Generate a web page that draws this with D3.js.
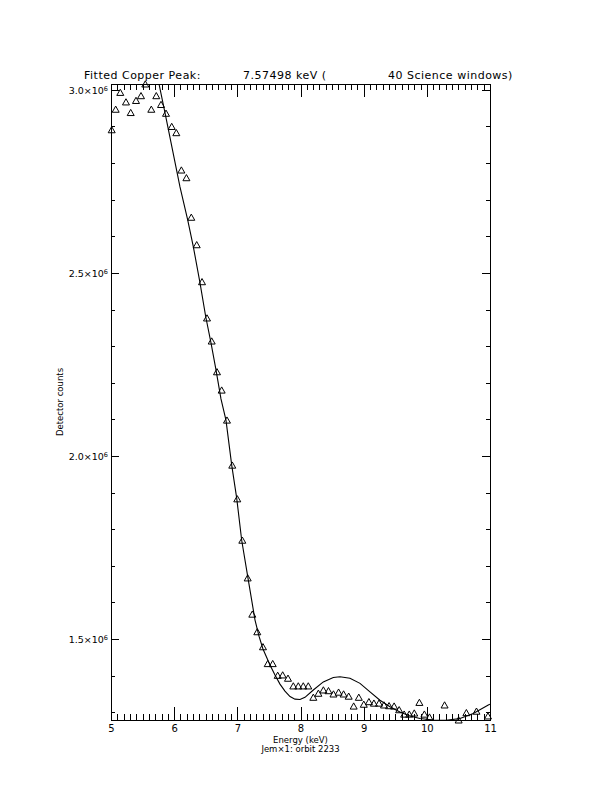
<!DOCTYPE html>
<html><head><meta charset="utf-8">
<script src="https://cdn.jsdelivr.net/npm/d3@7"></script>
<style>
body{margin:0;background:#fff;}
svg{display:block;background:#fff;}
text{font-family:"DejaVu Sans",sans-serif;fill:#000;}
</style></head><body>
<svg id="c" width="612" height="792"></svg>
<script>
// Measured spectrum points (energy in keV, counts in units of 10^6)
const energy=[5.011,5.074,5.147,5.237,5.312,5.396,5.475,5.543,5.638,5.717,5.792,5.871,5.961,6.034,6.114,6.194,6.271,6.357,6.441,6.520,6.594,6.678,6.752,6.836,6.920,6.999,7.079,7.164,7.237,7.316,7.406,7.481,7.560,7.639,7.718,7.802,7.886,7.965,8.044,8.123,8.203,8.283,8.362,8.443,8.522,8.603,8.682,8.763,8.842,8.923,9.002,9.083,9.162,9.243,9.322,9.402,9.482,9.562,9.641,9.722,9.801,9.882,9.961,10.042,10.281,10.504,10.626,10.786,10.968];
const counts=[2.891,2.947,2.993,2.967,2.938,2.971,2.984,3.016,2.947,2.984,2.960,2.936,2.900,2.883,2.781,2.760,2.652,2.577,2.476,2.377,2.314,2.230,2.180,2.098,1.975,1.883,1.770,1.667,1.568,1.520,1.479,1.433,1.433,1.401,1.402,1.393,1.372,1.372,1.372,1.372,1.341,1.352,1.361,1.359,1.350,1.355,1.350,1.344,1.317,1.341,1.322,1.329,1.325,1.325,1.320,1.318,1.317,1.307,1.295,1.295,1.298,1.327,1.295,1.287,1.320,1.279,1.299,1.303,1.290];
// Fitted model curve
const fitEnergy=[5.760,5.855,6.092,6.214,6.303,6.409,6.499,6.583,6.662,6.741,6.820,6.911,6.990,7.069,7.174,7.280,7.343,7.406,7.517,7.596,7.675,7.754,7.834,7.913,7.992,8.071,8.203,8.361,8.519,8.625,8.783,8.942,9.100,9.258,9.416,9.574,9.732,9.891,10.102,10.303,10.525,10.735,10.973,11.000];
const fitCounts=[3.016,2.937,2.735,2.645,2.572,2.473,2.381,2.309,2.235,2.156,2.098,1.975,1.885,1.770,1.661,1.552,1.508,1.473,1.429,1.402,1.377,1.358,1.343,1.336,1.335,1.341,1.361,1.383,1.395,1.397,1.393,1.379,1.356,1.333,1.315,1.301,1.290,1.283,1.279,1.278,1.283,1.297,1.320,1.322];
const xTicks=[5,6,7,8,9,10,11];
const xTickLabels=["5","6","7","8","9","10","11"];
const yTicks=[1.5,2.0,2.5,3.0];
const yTickLabels=["1.5","2.0","2.5","3.0"];
const titleParts=["Fitted Copper Peak:","7.57498 keV (","40 Science windows)"];
const xTitle="Energy (keV)";
const subTitle="Jem\u00d71: orbit 2233";
const yTitle="Detector counts";

const svg=d3.select("#c");
const L=111,R=490,T=84,B=720;
const x=d3.scaleLinear().domain([5,11]).range([L,R]);
const y=d3.scaleLinear().domain(d3.extent(counts)).range([B,T]);

const xMinor=d3.range(50,111).filter(v=>v%10!==0).map(v=>v/10);
const yMinor=d3.range(13,31).filter(v=>v%5!==0).map(v=>v/10);
const XMAJ=12.6,XMIN=6.3,YMAJ=7.6,YMIN=3.8;

function styleAxis(g){
  g.selectAll("path,line").attr("stroke","#000").attr("stroke-width",1).attr("shape-rendering","crispEdges");
  g.selectAll("text").attr("font-family","DejaVu Sans, sans-serif").attr("fill","#000");
}
// bottom
const gb=svg.append("g").attr("transform",`translate(0,${B})`)
  .call(d3.axisBottom(x).tickValues(xTicks).tickSize(-XMAJ).tickSizeOuter(0).tickPadding(5)
  .tickFormat((d,i)=>xTickLabels[i]));
gb.selectAll("text").attr("font-size",10);
svg.append("g").attr("transform",`translate(0,${B})`)
  .call(d3.axisBottom(x).tickValues(xMinor).tickSize(-XMIN).tickSizeOuter(0).tickFormat("")).call(g=>g.select(".domain").remove()).call(styleAxis);
styleAxis(gb);
// top
svg.append("g").attr("transform",`translate(0,${T})`)
  .call(d3.axisTop(x).tickValues(xTicks).tickSize(-XMAJ).tickSizeOuter(0).tickFormat("")).call(styleAxis);
svg.append("g").attr("transform",`translate(0,${T})`)
  .call(d3.axisTop(x).tickValues(xMinor).tickSize(-XMIN).tickSizeOuter(0).tickFormat("")).call(g=>g.select(".domain").remove()).call(styleAxis);
// left
const gl=svg.append("g").attr("transform",`translate(${L},0)`)
  .call(d3.axisLeft(y).tickValues(yTicks).tickSize(-YMAJ).tickSizeOuter(0).tickPadding(3).tickFormat(""));
gl.selectAll(".tick text").each(function(d,i){
  const t=d3.select(this).attr("font-size",9.5).attr("dy","0.35em");
  t.append("tspan").text(yTickLabels[i]+"\u00d710");
  t.append("tspan").attr("font-size",6.5).attr("dy","-0.45em").text("6");
});
styleAxis(gl);
svg.append("g").attr("transform",`translate(${L},0)`)
  .call(d3.axisLeft(y).tickValues(yMinor).tickSize(-YMIN).tickSizeOuter(0).tickFormat("")).call(g=>g.select(".domain").remove()).call(styleAxis);
// right
svg.append("g").attr("transform",`translate(${R},0)`)
  .call(d3.axisRight(y).tickValues(yTicks).tickSize(-YMAJ).tickSizeOuter(0).tickFormat("")).call(styleAxis);
svg.append("g").attr("transform",`translate(${R},0)`)
  .call(d3.axisRight(y).tickValues(yMinor).tickSize(-YMIN).tickSizeOuter(0).tickFormat("")).call(g=>g.select(".domain").remove()).call(styleAxis);

// clip
svg.append("clipPath").attr("id","pc").append("rect").attr("x",L).attr("y",T).attr("width",R-L).attr("height",B-T);

// fit curve
const fit=fitEnergy.map((e,i)=>[e,fitCounts[i]]);
svg.append("path").datum(fit).attr("clip-path","url(#pc)")
  .attr("fill","none").attr("stroke","#000").attr("stroke-width",1.1)
  .attr("d",d3.line().x(d=>x(d[0])).y(d=>y(d[1])));

// points (triangles)
svg.append("g").selectAll("path").data(energy.map((e,i)=>[e,counts[i]])).join("path")
  .attr("transform",d=>`translate(${x(d[0])},${y(d[1])})`)
  .attr("d","M-3.5,3L0,-3.2L3.5,3Z").attr("fill","none").attr("stroke","#000").attr("stroke-width",1);

// titles
const tt=svg.append("text").attr("y",79).attr("font-size",11).attr("letter-spacing","0.5px");
const tx=[84,243,388];
titleParts.forEach((p,i)=>tt.append("tspan").attr("x",tx[i]).text(p));
svg.append("text").attr("x",(L+R)/2).attr("y",743).attr("text-anchor","middle").attr("font-size",8.5).text(xTitle);
svg.append("text").attr("x",(L+R)/2).attr("y",752).attr("text-anchor","middle").attr("font-size",8.5).text(subTitle);
svg.append("text").attr("transform",`translate(63,${(T+B)/2}) rotate(-90)`).attr("text-anchor","middle").attr("font-size",8.5).text(yTitle);
</script>
</body></html>
